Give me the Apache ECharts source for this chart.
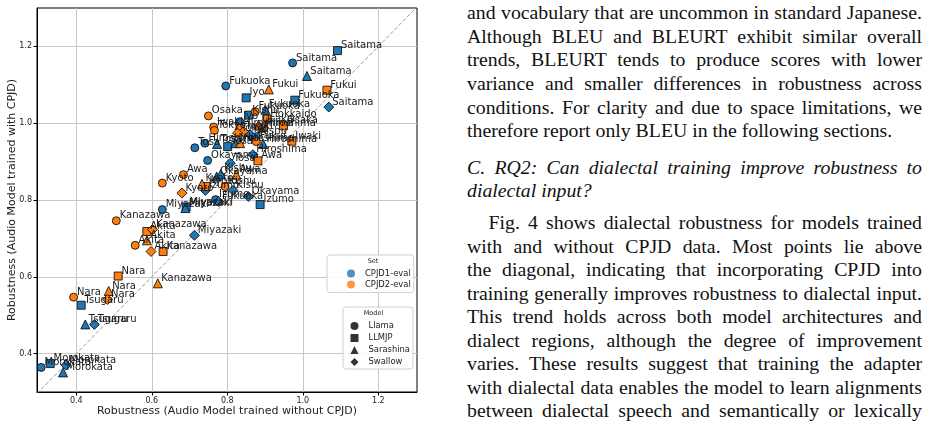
<!DOCTYPE html>
<html>
<head>
<meta charset="utf-8">
<script src="https://cdn.jsdelivr.net/npm/echarts@6/dist/echarts.min.js"></script>
<style>
  body { margin: 0; background: #fff; width: 930px; height: 429px; overflow: hidden; position: relative; }
  #chart { position: absolute; left: 0; top: 0; width: 430px; height: 429px; }
  .ln { position: absolute; left: 467px; width: 455px; font-family: "Liberation Serif", serif; font-size: 19.8px;
        line-height: 23.5px; color: #111; white-space: nowrap; }
  .j { text-align: justify; text-align-last: justify; white-space: normal; }
  .it { font-style: italic; }
</style>
</head>
<body>
<div id="chart"></div>

<div class="ln j" style="top:1px">and vocabulary that are uncommon in standard Japanese.</div>
<div class="ln j" style="top:24.7px">Although BLEU and BLEURT exhibit similar overall</div>
<div class="ln j" style="top:48.3px">trends, BLEURT tends to produce scores with lower</div>
<div class="ln j" style="top:72px">variance and smaller differences in robustness across</div>
<div class="ln j" style="top:95.6px">conditions. For clarity and due to space limitations, we</div>
<div class="ln" style="top:119.3px">therefore report only BLEU in the following sections.</div>
<div class="ln j it" style="top:155.5px">C. RQ2: Can dialectal training improve robustness to</div>
<div class="ln it" style="top:179px">dialectal input?</div>
<div class="ln j" style="top:211px;left:488.5px;width:433.5px">Fig. 4 shows dialectal robustness for models trained</div>
<div class="ln j" style="top:234.5px">with and without CPJD data. Most points lie above</div>
<div class="ln j" style="top:258px">the diagonal, indicating that incorporating CPJD into</div>
<div class="ln j" style="top:281.6px">training generally improves robustness to dialectal input.</div>
<div class="ln j" style="top:305.2px">This trend holds across both model architectures and</div>
<div class="ln j" style="top:328.7px">dialect regions, although the degree of improvement</div>
<div class="ln j" style="top:352.2px">varies. These results suggest that training the adapter</div>
<div class="ln j" style="top:375.8px">with dialectal data enables the model to learn alignments</div>
<div class="ln j" style="top:399.3px">between dialectal speech and semantically or lexically</div>

<script>
// 축 범위와 눈금
var xRange = [0.296, 1.3025];
var yRange = [0.30, 1.30];
var tickValues = [0.4, 0.6, 0.8, 1.0, 1.2];

var setNames = ['CPJD1-eval', 'CPJD2-eval'];
var setColors = ['#1f77b4', '#ff7f0e'];
var modelNames = ['Llama', 'LLMJP', 'Sarashina', 'Swallow'];
var modelSymbols = ['circle', 'rect', 'triangle', 'diamond'];
var symbolSizes = [8, 8, 9, 10];

// [without CPJD, with CPJD, dialect]  -- CPJD1-eval
var llamaCpjd1 = [
  [0.973, 1.157, 'Saitama'], [0.796, 1.097, 'Fukuoka'], [0.833, 1.004, 'Iyo'],
  [0.741, 0.948, 'Hiroshima'], [0.714, 0.936, 'Tosa'], [0.748, 0.903, 'Okayama'],
  [0.877, 0.965, 'Kishu'], [0.769, 0.801, 'Izumo'], [0.628, 0.775, 'Miyazaki'],
  [0.307, 0.364, 'Morokata']
];
var llmjpCpjd1 = [
  [1.092, 1.189, 'Saitama'], [0.850, 1.066, 'Iyo'], [0.979, 1.060, 'Fukuoka'],
  [0.857, 1.021, 'Kishu'], [0.801, 0.939, 'Tosa'], [0.887, 0.788, 'Izumo'],
  [0.691, 0.782, 'Miyazaki'], [0.413, 0.526, 'Tsugaru'], [0.331, 0.374, 'Morokata']
];
var sarashinaCpjd1 = [
  [1.011, 1.123, 'Saitama'], [0.901, 1.035, 'Fukuoka'], [0.821, 0.948, 'Iyo'],
  [0.773, 0.946, 'Tosa'], [0.895, 0.946, 'Hiroshima'], [0.772, 0.861, 'Okayama'],
  [0.783, 0.868, 'Kishu'], [0.689, 0.779, 'Miyazaki'], [0.424, 0.476, 'Tsugaru'],
  [0.365, 0.351, 'Morokata']
];
var swallowCpjd1 = [
  [1.069, 1.042, 'Saitama'], [0.861, 0.970, 'Iyo'], [0.868, 0.918, 'Hiroshima'],
  [0.808, 0.896, 'Tosa'], [0.815, 0.825, 'Kishu'], [0.856, 0.809, 'Okayama'],
  [0.742, 0.825, 'Izumo'], [0.777, 0.796, 'Fukuoka'], [0.713, 0.708, 'Miyazaki'],
  [0.448, 0.476, 'Tsugaru'], [0.373, 0.370, 'Morokata']
];

// CPJD2-eval
var llamaCpjd2 = [
  [0.750, 1.019, 'Osaka'], [0.874, 1.030, 'Fukuoka'], [0.764, 0.990, 'Iwaki'],
  [0.766, 0.981, 'Tokyo'], [0.833, 0.987, 'Hiroshima'], [0.877, 0.952, 'Fukui'],
  [0.684, 0.866, 'Awa'], [0.628, 0.844, 'Kyoto'], [0.794, 0.835, 'Kishu'],
  [0.506, 0.746, 'Kanazawa'], [0.556, 0.682, 'Akita'], [0.393, 0.547, 'Nara']
];
var llmjpCpjd2 = [
  [1.064, 1.086, 'Fukui'], [0.905, 1.011, 'Hokkaido'], [0.949, 0.993, 'Osaka'],
  [0.892, 0.987, 'Hiroshima'], [0.971, 0.953, 'Iwaki'], [0.881, 0.902, 'Awa'],
  [0.744, 0.835, 'Kyoto'], [0.587, 0.718, 'Akita'], [0.630, 0.666, 'Kanazawa'],
  [0.511, 0.602, 'Nara']
];
var sarashinaCpjd2 = [
  [0.910, 1.088, 'Fukui'], [0.883, 0.996, 'Osaka'], [0.834, 0.948, 'Hiroshima'],
  [0.824, 0.866, 'Awa'], [0.733, 0.842, 'Kyoto'], [0.587, 0.695, 'Akita'],
  [0.616, 0.583, 'Kanazawa'], [0.486, 0.563, 'Nara']
];
var swallowCpjd2 = [
  [0.843, 0.978, 'Iwaki'], [0.827, 0.974, 'Tokyo'], [0.680, 0.818, 'Kyoto'],
  [0.602, 0.723, 'Kanazawa'], [0.598, 0.666, 'Akita'], [0.483, 0.541, 'Nara']
];

var groups = [
  [0, 0, llamaCpjd1], [0, 1, llmjpCpjd1], [0, 2, sarashinaCpjd1], [0, 3, swallowCpjd1],
  [1, 0, llamaCpjd2], [1, 1, llmjpCpjd2], [1, 2, sarashinaCpjd2], [1, 3, swallowCpjd2]
];

var font = 'DejaVu Sans';
var myChart = echarts.init(document.getElementById('chart'));

var series = [
  // y = x 대각선
  {
    type: 'line',
    data: [[xRange[0], xRange[0]], [xRange[1], xRange[1]]],
    symbol: 'none',
    silent: true,
    clip: true,
    lineStyle: { color: '#9a9a9a', width: 1, type: [4, 2] },
    z: 1
  }
];

groups.forEach(function (g) {
  var size = symbolSizes[g[1]];
  series.push({
    name: modelNames[g[1]] + ' ' + setNames[g[0]],
    type: 'scatter',
    symbol: modelSymbols[g[1]],
    symbolSize: size,
    data: g[2],
    itemStyle: { color: setColors[g[0]], borderColor: '#000', borderWidth: 0.8, opacity: 1 },
    label: {
      show: true,
      position: 'right',
      distance: 0,
      offset: [3 - size / 2, -5],
      formatter: function (p) { return p.value[2]; },
      fontFamily: font,
      fontSize: 10,
      color: '#1a1a1a'
    },
    emphasis: { disabled: true },
    z: 3
  });
});

// 범례용 빈 시리즈
setNames.forEach(function (n, i) {
  series.push({ name: n, type: 'scatter', data: [], itemStyle: { color: setColors[i] } });
});
modelNames.forEach(function (n) {
  series.push({ name: n, type: 'scatter', data: [], itemStyle: { color: '#000' } });
});

var legendText = { fontFamily: font, fontSize: 8.4, color: '#222', lineHeight: 9, padding: [0, 0, 0, 5] };

var option = {
  backgroundColor: '#fff',
  animation: false,
  grid: { left: 37, top: 8, width: 380, height: 384, show: true, borderColor: '#000', borderWidth: 1,
    containLabel: false, outerBoundsMode: 'none' },
  xAxis: {
    type: 'value',
    min: xRange[0],
    max: xRange[1],
    name: 'Robustness (Audio Model trained without CPJD)',
    nameLocation: 'middle',
    nameGap: 14,
    nameMoveOverlap: false,
    nameTextStyle: { fontFamily: font, fontSize: 11, color: '#222' },
    axisLine: { show: true, onZero: false, lineStyle: { color: '#000', width: 1 } },
    axisTick: { show: true, length: 3.5, customValues: tickValues, lineStyle: { color: '#000' } },
    axisLabel: { customValues: tickValues, margin: 5, fontFamily: font, fontSize: 8, color: '#222',
      formatter: function (v) { return v.toFixed(1); } },
    splitLine: { show: true, lineStyle: { color: '#c8c8c8', width: 1 } }
  },
  yAxis: {
    type: 'value',
    min: yRange[0],
    max: yRange[1],
    name: 'Robustness (Audio Model trained with CPJD)',
    nameLocation: 'middle',
    nameGap: 19,
    nameMoveOverlap: false,
    nameTextStyle: { fontFamily: font, fontSize: 11, color: '#222' },
    axisLine: { show: true, onZero: false, lineStyle: { color: '#000', width: 1 } },
    axisTick: { show: true, length: 3.5, customValues: tickValues, lineStyle: { color: '#000' } },
    axisLabel: { customValues: tickValues, margin: 5, fontFamily: font, fontSize: 8, color: '#222',
      formatter: function (v) { return v.toFixed(1); } },
    splitLine: { show: true, lineStyle: { color: '#c8c8c8', width: 1 } }
  },
  legend: [
    {
      data: setNames.map(function (n) { return { name: n, icon: 'circle' }; }),
      orient: 'vertical',
      left: 327,
      top: 255,
      itemWidth: 8,
      itemHeight: 8,
      itemGap: 2,
      padding: [14, 3, 3.5, 20],
      backgroundColor: 'rgba(255,255,255,0.85)',
      borderColor: '#d0d0d0',
      borderWidth: 1,
      borderRadius: 3,
      selectedMode: false,
      textStyle: legendText
    },
    {
      data: modelNames.map(function (n, i) { return { name: n, icon: modelSymbols[i] }; }),
      orient: 'vertical',
      left: 343,
      top: 307,
      itemWidth: 8,
      itemHeight: 8,
      itemGap: 3,
      padding: [14.5, 3, 2.5, 7.5],
      backgroundColor: 'rgba(255,255,255,0.85)',
      borderColor: '#d0d0d0',
      borderWidth: 1,
      borderRadius: 3,
      selectedMode: false,
      textStyle: legendText
    }
  ],
  graphic: [
    { type: 'text', x: 373, y: 261, z: 100, style: { text: 'Set', align: 'center', verticalAlign: 'middle',
      fontFamily: font, fontSize: 6.5, fill: '#222' } },
    { type: 'text', x: 373.5, y: 313.5, z: 100, style: { text: 'Model', align: 'center', verticalAlign: 'middle',
      fontFamily: font, fontSize: 6.5, fill: '#222' } }
  ],
  series: series
};

//  차트 옵션 설정하기
myChart.setOption(option);
</script>
</body>
</html>
